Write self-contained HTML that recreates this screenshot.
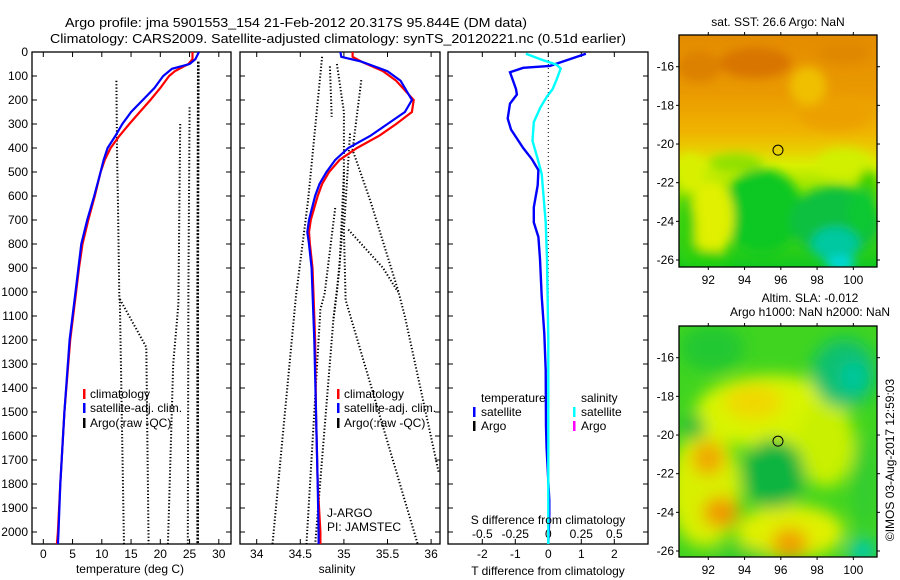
<!DOCTYPE html>
<html><head><meta charset="utf-8"><style>
html,body{margin:0;padding:0;background:#fff;}
svg{display:block;font-family:"Liberation Sans",sans-serif;}
</style></head><body>
<svg id="fig" width="900" height="580" viewBox="0 0 900 580" xmlns="http://www.w3.org/2000/svg">
<defs>
 <clipPath id="c1"><rect x="32" y="52" width="199" height="492"/></clipPath>
 <clipPath id="c2"><rect x="240" y="52" width="200" height="492"/></clipPath>
 <clipPath id="c3"><rect x="448" y="52" width="200" height="492"/></clipPath>
 <clipPath id="cm1"><rect x="679" y="35" width="198" height="232"/></clipPath>
 <clipPath id="cm2"><rect x="679" y="326" width="198" height="231"/></clipPath>
 <filter id="bl" x="-50%" y="-50%" width="200%" height="200%"><feGaussianBlur stdDeviation="8"/></filter>
 <filter id="bl2" x="-50%" y="-50%" width="200%" height="200%"><feGaussianBlur stdDeviation="5"/></filter>
 <linearGradient id="sstg" x1="0" y1="0" x2="0" y2="1">
  <stop offset="0" stop-color="#e48c00"/><stop offset="0.25" stop-color="#ea9a00"/>
  <stop offset="0.42" stop-color="#f0b400"/><stop offset="0.5" stop-color="#e8d000"/>
  <stop offset="0.56" stop-color="#d8f000"/><stop offset="0.7" stop-color="#80e000"/>
  <stop offset="1" stop-color="#10c820"/>
 </linearGradient>
</defs>
<g id="titles" font-size="13">
 <text x="65" y="27" textLength="462" lengthAdjust="spacingAndGlyphs">Argo profile: jma 5901553_154 21-Feb-2012 20.317S 95.844E (DM data)</text>
 <text x="50" y="43" textLength="576" lengthAdjust="spacingAndGlyphs">Climatology: CARS2009. Satellite-adjusted climatology: synTS_20120221.nc (0.51d earlier)</text>
</g>
<g id="p1"></g>
<g id="p2"></g>
<g id="p3"></g>
<g id="m1"></g>
<g id="m2"></g>
<text font-size="12" transform="translate(894,460) rotate(-90)" text-anchor="middle">©IMOS 03-Aug-2017 12:59:03</text>
</svg>
<script>
// ---------- data ----------
const depthTicks=[0,100,200,300,400,500,600,700,800,900,1000,1100,1200,1300,1400,1500,1600,1700,1800,1900,2000];
const tempTicks=[0,5,10,15,20,25,30];
const salTicks=[34,34.5,35,35.5,36];
const tdiffTicks=[-2,-1,0,1,2];
const sdiffTicks=[-0.5,-0.25,0,0.25,0.5];
const sdiffTickLabels=["-0.5","-0.25","0","0.25","0.5"];
const lonTicks=[92,94,96,98,100];
const latTicks=[-16,-18,-20,-22,-24,-26];
// temperature profiles [temp, depth]
const tempClim=[[25.5,0],[25.5,30],[24.8,50],[22.5,80],[21.5,100],[20,150],[18.3,200],[16.5,250],[14.7,300],[13,350],[11.5,400],[10.5,450],[9.8,500],[8.8,600],[7.7,700],[6.7,800],[6.1,900],[5.6,1000],[4.6,1200],[3.6,1500],[2.9,1800],[2.5,2000],[2.3,2055]];
const tempSat=[[26.6,0],[26.0,30],[25.0,50],[22.0,70],[20.5,100],[19.0,150],[17.0,200],[15.0,250],[13.5,300],[12.3,350],[11.0,400],[10.3,450],[9.8,500],[8.7,600],[7.5,700],[6.5,800],[6.0,900],[5.5,1000],[4.5,1200],[3.6,1500],[2.9,1800],[2.6,2000],[2.5,2055]];
const tempArgo1=[[12.5,120],[12.6,400],[12.8,700],[13.0,1020],[13.1,1050],[13.8,2055]];
const tempArgo2=[[13.1,1030],[17.6,1230],[18.0,2055]];
const tempArgo3=[[23.4,300],[23.1,1050],[22.2,1300],[21.3,2055]];
const tempArgo4=[[25.0,230],[24.8,1000],[24.7,2055]];
const tempArgo5=[[26.5,40],[26.4,1000],[26.4,2055]];
// salinity profiles [sal, depth]
const salClim=[[35.1,0],[35.1,20],[35.2,40],[35.45,80],[35.6,120],[35.8,200],[35.78,250],[35.6,300],[35.4,350],[35.15,400],[34.95,450],[34.83,500],[34.75,550],[34.7,600],[34.62,700],[34.6,750],[34.61,800],[34.64,900],[34.65,1000],[34.67,1200],[34.68,1500],[34.7,1800],[34.73,2000],[34.73,2055]];
const salSat=[[34.96,0],[34.97,20],[35.2,40],[35.5,80],[35.65,120],[35.78,200],[35.7,250],[35.5,300],[35.3,350],[35.05,400],[34.9,450],[34.8,500],[34.72,550],[34.67,600],[34.6,700],[34.58,750],[34.6,800],[34.63,900],[34.64,1000],[34.66,1200],[34.68,1500],[34.7,1800],[34.71,2000],[34.71,2055]];
const salArgo1=[[34.75,20],[34.59,617],[34.45,1019],[34.18,2055]];
const salArgo2=[[34.84,60],[34.86,270]];
const salArgo3=[[35.2,117],[35.1,408],[35.3,617],[35.62,992],[35.7,1102],[36.09,1755]];
const salArgo4=[[35.07,340],[35.0,740],[35.02,1033],[35.85,2055]];
const salArgo5=[[35.05,740],[35.45,900],[35.62,1000]];
const salArgo6=[[34.9,650],[34.78,1005],[34.73,1072],[34.57,2055]];
const salArgo7=[[35.0,500],[34.95,900],[34.88,1114],[34.67,2055]];
const salArgo8=[[34.92,50],[35.0,250],[35.0,600],[34.97,800],[34.92,1000],[34.88,1114]];
// differences [value, depth]
const tDiffSat=[[1.14,7],[0.05,58],[-0.76,66],[-1.16,84],[-0.98,154],[-0.95,177],[-1.16,215],[-1.23,277],[-1.13,323],[-0.76,400],[-0.5,446],[-0.3,492],[-0.32,555],[-0.44,647],[-0.44,710],[-0.3,771],[-0.25,863],[-0.2,1018],[-0.12,1173],[-0.08,1326],[-0.07,1558],[-0.05,1650],[0.03,1867],[0.03,1929],[0,2055]];
const sDiffSat=[[-0.17,7],[-0.06,30],[0.063,53],[0.094,69],[0.063,115],[0.033,154],[-0.01,185],[-0.06,231],[-0.11,292],[-0.12,370],[-0.08,446],[-0.05,508],[-0.02,710],[-0.01,863],[0,1200],[0,2055]];
// map markers
const argoLon=[95.844];
const argoLat=[-20.317];

// ---------- helpers ----------
const NS="http://www.w3.org/2000/svg";
function mk(tag,attrs,parent){const e=document.createElementNS(NS,tag);for(const k in attrs)e.setAttribute(k,attrs[k]);if(parent)parent.appendChild(e);return e;}
const yD=d=>52+d*0.24;
const xT=t=>43.3+t*5.85;
const xS=s=>256.7+(s-34)*87.2;
const xTd=t=>548.3+t*33;
const xSd=s=>548.3+s*132;
function pts(arr,fx){return arr.map(p=>fx(p[0]).toFixed(1)+","+yD(p[1]).toFixed(1)).join(" ");}
function frame(g,x0,x1,y0,y1,xt,fx,labels,ly){
  const r=mk('rect',{x:x0,y:y0,width:x1-x0,height:y1-y0,fill:'none',stroke:'#000','stroke-width':1.3},g);
  
  
  depthTicks.forEach(d=>{const y=yD(d);
    mk('line',{x1:x0,x2:x0+5,y1:y,y2:y,stroke:'#000'},g);
    mk('line',{x1:x1-5,x2:x1,y1:y,y2:y,stroke:'#000'},g);});
  xt.forEach((v,i)=>{const x=fx(v);
    mk('line',{x1:x,x2:x,y1:y1,y2:y1-5,stroke:'#000'},g);
    mk('line',{x1:x,x2:x,y1:y0,y2:y0+5,stroke:'#000'},g);
    if(labels){const t=mk('text',{x:x,y:ly,'text-anchor':'middle','font-size':12},g);t.textContent=labels[i];
      
      }
  });
}
function line(g,arr,fx,color,w,dash,clip,name){
  const l=mk('polyline',{points:pts(arr,fx),fill:'none',stroke:color,'stroke-width':w,'clip-path':'url(#'+clip+')'},g);
  if(dash)l.setAttribute('stroke-dasharray',dash);
  
  
}
function txt(g,x,y,s,name,anchor,size){const t=mk('text',{x:x,y:y,'font-size':size||12,'text-anchor':anchor||'start'},g);t.textContent=s;
  
  return t;}
function legbar(g,x,y,color){const r=mk('rect',{x:x,y:y-9,width:2.5,height:10,fill:color},g);
  
  }

// ---------- panel 1 ----------
const p1=document.getElementById('p1');
frame(p1,32,231,52,544,tempTicks,xT,tempTicks.map(String),558);
depthTicks.forEach(d=>{const t=txt(p1,28,yD(d)+4,String(d),'y-tick-label','end');});
[tempArgo1,tempArgo2,tempArgo3,tempArgo4].forEach(a=>line(p1,a,xT,'#000',2,'1.3 2','c1','argo-temp-profile'));
line(p1,tempArgo5,xT,'#000',2.6,'2 1.5','c1','argo-temp-profile');
line(p1,tempClim,xT,'#f00',2.2,null,'c1','climatology-temp-line');
line(p1,tempSat,xT,'#00f',2.2,null,'c1','satellite-temp-line');
txt(p1,130,573,'temperature (deg C)','x-axis-title','middle');
legbar(p1,83,398,'#f00');txt(p1,90,398,'climatology','legend-climatology');
legbar(p1,83,412,'#00f');txt(p1,90,412,'satellite-adj. clim.','legend-satellite');
legbar(p1,83,427,'#000');txt(p1,90,427,'Argo(:raw -QC)','legend-argo');

// ---------- panel 2 ----------
const p2=document.getElementById('p2');
frame(p2,240,440,52,544,salTicks,xS,salTicks.map(String),558);
[salArgo1,salArgo2,salArgo3,salArgo4,salArgo5,salArgo6,salArgo7,salArgo8].forEach(a=>line(p2,a,xS,'#000',2,'1.3 2','c2','argo-sal-profile'));
line(p2,salClim,xS,'#f00',2.2,null,'c2','climatology-sal-line');
line(p2,salSat,xS,'#00f',2.2,null,'c2','satellite-sal-line');
txt(p2,337,573,'salinity','x-axis-title','middle');
legbar(p2,337,398,'#f00');txt(p2,344,398,'climatology','legend-climatology');
legbar(p2,337,412,'#00f');txt(p2,344,412,'satellite-adj. clim.','legend-satellite');
legbar(p2,337,427,'#000');txt(p2,344,427,'Argo(:raw -QC)','legend-argo');
txt(p2,327,517,'J-ARGO','data-centre-label');
txt(p2,327,531,'PI: JAMSTEC','pi-label');

// ---------- panel 3 ----------
const p3=document.getElementById('p3');
frame(p3,448,648,52,544,tdiffTicks,xTd,tdiffTicks.map(String),558);
sdiffTicks.forEach((v,i)=>{txt(p3,xSd(v),538,sdiffTickLabels[i],'s-tick-label','middle');});
const z=mk('line',{x1:548.3,x2:548.3,y1:52,y2:544,stroke:'#000','stroke-dasharray':'1 3'},p3);


line(p3,tDiffSat,xTd,'#00f',2.4,null,'c3','temp-diff-satellite-line');
line(p3,sDiffSat,xSd,'#0ff',2.4,null,'c3','sal-diff-satellite-line');
txt(p3,548,524,'S difference from climatology','s-axis-title','middle');
txt(p3,548,575,'T difference from climatology','t-axis-title','middle');
txt(p3,481,402,'temperature','legend-temperature-heading');
legbar(p3,473,416,'#00f');txt(p3,481,416,'satellite','legend-temp-satellite');
legbar(p3,473,430,'#000');txt(p3,481,430,'Argo','legend-temp-argo');
txt(p3,581,402,'salinity','legend-salinity-heading');
legbar(p3,573,416,'#0ff');txt(p3,581,416,'satellite','legend-sal-satellite');
legbar(p3,573,430,'#f0f');txt(p3,581,430,'Argo','legend-sal-argo');

// ---------- maps ----------
const mx=lon=>708.3+(lon-92)*18.13;
function mapAxes(g,top,bot,lat16){
  const r=mk('rect',{x:679,y:top,width:198,height:bot-top,fill:'none',stroke:'#000','stroke-width':1.3},g);
  
  
  lonTicks.forEach(l=>{const x=mx(l);
    mk('line',{x1:x,x2:x,y1:top,y2:top-3,stroke:'#000'},g);
    mk('line',{x1:x,x2:x,y1:bot,y2:bot+3,stroke:'#000'},g);
    txt(g,x,bot+17,String(l),'lon-tick-label','middle');});
  latTicks.forEach(l=>{const y=lat16+(-16-l)*19.33;
    mk('line',{x1:676,x2:679,y1:y,y2:y,stroke:'#000'},g);
    mk('line',{x1:877,x2:880,y1:y,y2:y,stroke:'#000'},g);
    txt(g,674,y+4,String(l),'lat-tick-label','end');});
  const c=mk('circle',{cx:mx(argoLon[0]),cy:lat16+(-16-argoLat[0])*19.33,r:5,fill:'none',stroke:'#000','stroke-width':1},g);
  
  
}
function blobs(g,clip,lat16,list,filt){
  const gg=mk('g',{'clip-path':'url(#'+clip+')'},g);
  const inner=mk('g',{filter:'url(#'+filt+')'},gg);
  list.forEach(b=>{mk('ellipse',{cx:mx(b[0]),cy:lat16+(-16-b[1])*19.33,rx:b[2]*18.13,ry:b[3]*19.33,fill:b[4]},inner);});
  return gg;
}
// SST map
const m1=document.getElementById('m1');
const sst=mk('g',{'clip-path':'url(#cm1)'},m1);
mk('rect',{x:679,y:35,width:198,height:232,fill:'url(#sstg)'},sst);
blobs(m1,'cm1',66.7,[
 [94.6,-15.8,2,0.8,'#d87400'],[91.5,-16,1.2,0.8,'#dc8000'],[99.5,-15.3,1.5,0.6,'#e08800'],
 [99,-18.5,2,0.8,'#eca000'],[97.5,-17,1,1,'#f0c000'],
 [95,-23.5,2.2,2.2,'#10c820'],[99,-24,2.5,1.8,'#10c040'],[99,-25.2,1.3,0.9,'#00c8a0'],
 [99.3,-26.2,0.8,0.4,'#00d8d8'],[92.2,-23.8,1.2,2,'#e0f000'],[90.8,-24.5,0.5,1.8,'#30d010'],
 [92,-26,1.2,0.5,'#20d010'],[99.5,-21,1.5,0.8,'#d0f000'],[100.8,-22.5,0.6,1.2,'#40d000'],
 [93.5,-21,1.5,0.5,'#90e000'],[91,-21.5,0.8,1,'#d8f000'],[100.5,-23.5,0.8,1.2,'#10c830']
],'bl2');
mapAxes(m1,35,267,66.7);
txt(m1,778,26,'sat. SST: 26.6 Argo: NaN','sst-map-title','middle');
// SLA map
const m2=document.getElementById('m2');
const sla=mk('g',{'clip-path':'url(#cm2)'},m2);
mk('rect',{x:679,y:326,width:198,height:231,fill:'#40d420'},sla);
blobs(m2,'cm2',357.7,[
 [95.5,-18.8,4.2,1.9,'#d8f400'],[94.5,-18.3,1.6,0.9,'#f0d800'],
 [91.8,-22.8,2,3,'#d8f000'],[96.5,-25,3,1.4,'#e0f000'],[98.5,-20.5,1.6,2.2,'#c8f000'],
 [92,-21.2,0.9,0.9,'#f0a800'],[92.7,-24,1,0.8,'#f09800'],[96.5,-25.6,1,0.8,'#f0a000'],
 [95.6,-22,1.7,1.8,'#10b440'],[99.5,-16.8,1.8,1.8,'#10c070'],[100,-17,0.7,0.8,'#00c8a0'],
 [92.2,-15.5,1.8,1.2,'#20c830'],[91.2,-19.6,0.6,0.6,'#10b840'],[100.5,-26,0.8,0.6,'#00c8b0'],
 [93.8,-26.2,1.5,0.35,'#20c830'],[100.6,-22.5,0.6,2.5,'#30cc30']
],'bl');
mapAxes(m2,326,557,357.7);
txt(m2,810,302,'Altim. SLA: -0.012','sla-map-title','middle');
txt(m2,810,316,'Argo h1000: NaN h2000: NaN','sla-map-subtitle','middle');
</script>
</body></html>
